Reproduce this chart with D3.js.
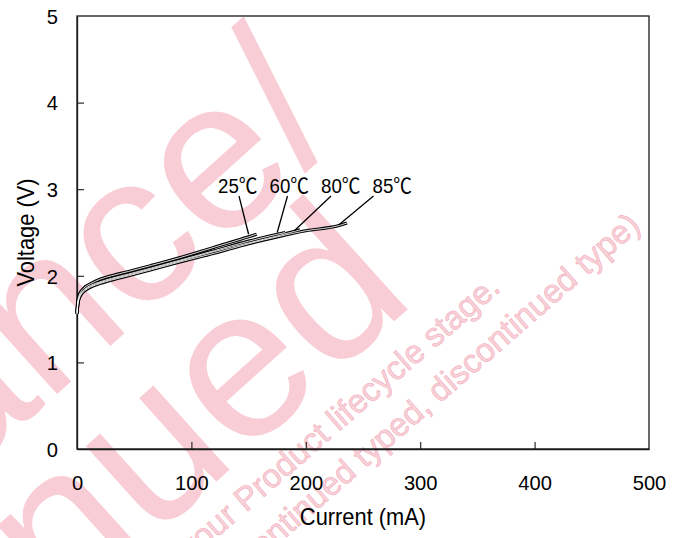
<!DOCTYPE html>
<html><head><meta charset="utf-8">
<script src="https://cdn.jsdelivr.net/npm/d3@7"></script>
<style>body{margin:0;background:#fff}svg{display:block}</style>
</head><body>
<svg id="c" width="684" height="538"></svg>
<script>
// ---- data ----
const seriesLabels = ["25℃", "60℃", "80℃", "85℃"];
const current25 = [0, 0.5, 1, 2, 4, 7, 12, 20, 30, 45, 65, 90, 120, 150, 157];
const voltage25 = [1.58, 1.68, 1.73, 1.78, 1.83, 1.87, 1.91, 1.96, 2.00, 2.05, 2.12, 2.21, 2.33, 2.45, 2.48];
const current60 = [0, 0.5, 1, 2, 4, 7, 12, 20, 30, 45, 65, 90, 120, 150, 175, 182];
const voltage60 = [1.57, 1.66, 1.71, 1.76, 1.81, 1.85, 1.89, 1.93, 1.97, 2.02, 2.09, 2.18, 2.29, 2.40, 2.48, 2.50];
const current80 = [0, 0.5, 1, 2, 4, 7, 12, 20, 30, 45, 65, 90, 120, 150, 175, 195];
const voltage80 = [1.56, 1.65, 1.70, 1.75, 1.80, 1.84, 1.88, 1.92, 1.96, 2.01, 2.08, 2.17, 2.28, 2.38, 2.46, 2.53];
const current85 = [0, 0.5, 1, 2, 4, 7, 12, 20, 30, 45, 65, 90, 120, 150, 175, 200, 229, 236];
const voltage85 = [1.56, 1.64, 1.69, 1.74, 1.79, 1.83, 1.87, 1.91, 1.95, 2.00, 2.07, 2.16, 2.26, 2.37, 2.45, 2.52, 2.58, 2.61];
// where each label's leader line touches its curve (mA, V)
const leaderCurrent = [150, 175, 190, 229];
const leaderVoltage = [2.48, 2.50, 2.52, 2.59];
const xTicks = [0, 100, 200, 300, 400, 500];
const yTicks = [0, 1, 2, 3, 4, 5];
const xTitle = "Current (mA)";
const yTitle = "Voltage (V)";
const watermarkBig = ["Maintenance/", "Discontinued"];
const watermarkSmall = ["Please confirm your Product lifecycle stage.", "(Discontinued typed, discontinued type)"];

// ---- layout ----
const svg = d3.select("#c");
const L = 77, R = 649, T = 16, B = 449;
const x = d3.scaleLinear().domain([0, 500]).range([L, R]);
const y = d3.scaleLinear().domain([0, 5]).range([B, T]);
const FONT = "'Liberation Sans', Arial, 'Noto Sans CJK JP', sans-serif";

svg.append("rect").attr("width", 684).attr("height", 538).attr("fill", "#fff");

// watermark
const wm = svg.append("g").attr("font-family", FONT).attr("text-anchor", "end");
const bigPos = [[348, 132], [418, 300]];
watermarkBig.forEach((t, i) => {
  wm.append("text").attr("transform", `translate(${bigPos[i][0]},${bigPos[i][1]}) rotate(-42)`)
    .attr("font-size", 215).attr("fill", "#f9cdd5").text(t);
});
const smallPos = [[502, 290], [642, 228]];
watermarkSmall.forEach((t, i) => {
  wm.append("text").attr("transform", `translate(${smallPos[i][0]},${smallPos[i][1]}) rotate(-41)`)
    .attr("font-size", 33).attr("fill", "#f8d3da").attr("stroke", "#f3aebb").attr("stroke-width", 0.6).text(t);
});

// frame
svg.append("rect").attr("x", L).attr("y", T).attr("width", R - L).attr("height", B - T)
  .attr("fill", "none").attr("stroke", "#1a1a1a").attr("stroke-width", 1.3);

// axes
const xAxis = d3.axisBottom(x).tickValues(xTicks).tickSizeInner(-7).tickSizeOuter(0).tickFormat(d3.format("d"));
const gx = svg.append("g").attr("transform", `translate(0,${B})`).call(xAxis);
const yAxis = d3.axisLeft(y).tickValues(yTicks).tickSizeInner(-7).tickSizeOuter(0).tickFormat(d3.format("d"));
const gy = svg.append("g").attr("transform", `translate(${L},0)`).call(yAxis);
[gx, gy].forEach(g => {
  g.select(".domain").attr("stroke", "#1a1a1a").attr("stroke-width", 1.3);
  g.selectAll(".tick line").attr("stroke", "#1a1a1a").attr("stroke-width", 1.1);
  g.selectAll(".tick text").attr("font-family", FONT).attr("font-size", 21).attr("fill", "#000");
});
gx.selectAll(".tick").filter(d => d === 0 || d === 500).select("line").remove();
gy.selectAll(".tick").filter(d => d === 0 || d === 5).select("line").remove();
gx.selectAll(".tick text").attr("y", 41).attr("dy", 0).attr("transform", "scale(0.96,1)");
gy.selectAll(".tick text").attr("x", 0).attr("dy", "0.35em")
  .attr("transform", "translate(-19,0) scale(0.96,1)");

// titles
svg.append("text").attr("transform", `translate(${(L + R) / 2},525) scale(0.93,1)`)
  .attr("text-anchor", "middle").attr("font-family", FONT).attr("font-size", 23.5).text(xTitle);
svg.append("text").attr("transform", `translate(34,${(T + B) / 2}) rotate(-90) scale(0.93,1)`)
  .attr("text-anchor", "middle").attr("font-family", FONT).attr("font-size", 23.5).text(yTitle);

// curves
const series = [
  { c: current25, v: voltage25 },
  { c: current60, v: voltage60 },
  { c: current80, v: voltage80 },
  { c: current85, v: voltage85 }
].map(s => s.c.map((cc, i) => [cc, s.v[i]]));
const line = d3.line().x(d => x(d[0])).y(d => y(d[1])).curve(d3.curveMonotoneX);
const gc = svg.append("g").attr("fill", "none").attr("stroke-linejoin", "round");
series.forEach(s => {
  gc.append("path").attr("d", line(s)).attr("stroke", "#000").attr("stroke-width", 3.2);
});
series.forEach(s => {
  gc.append("path").attr("d", line(s)).attr("stroke", "#fff").attr("stroke-width", 1.0).attr("opacity", 0.85);
});

// labels with leaders
const labelX0 = 218, labelStep = 51.5, labelBase = 193;
const leaderDx = [21, 18, 10, 1];
const gl = svg.append("g");
seriesLabels.forEach((t, i) => {
  const lx = labelX0 + i * labelStep;
  gl.append("text").attr("transform", `translate(${lx},${labelBase}) scale(0.89,1)`)
    .attr("font-family", FONT).attr("font-size", 21).text(t);
  gl.append("line").attr("x1", lx + leaderDx[i]).attr("y1", labelBase + 3)
    .attr("x2", x(leaderCurrent[i])).attr("y2", y(leaderVoltage[i]))
    .attr("stroke", "#000").attr("stroke-width", 1.3);
});
</script>
</body></html>
